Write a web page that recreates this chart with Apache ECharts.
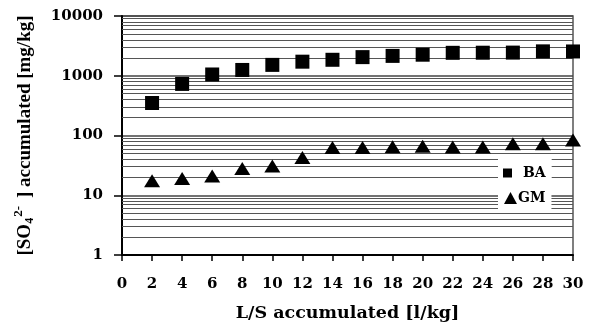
<!DOCTYPE html>
<html>
<head>
<meta charset="utf-8">
<script src="https://cdn.jsdelivr.net/npm/echarts@6/dist/echarts.min.js"></script>
<style>
  html, body { margin: 0; padding: 0; background: #fff; }
  #chart { width: 590px; height: 327px; }
</style>
</head>
<body>
<div id="chart"></div>
<script>
// L/S accumulated [l/kg]
const ls = [2, 4, 6, 8, 10, 12, 14, 16, 18, 20, 22, 24, 26, 28, 30];
// SO4 accumulated [mg/kg]
const ba = [350, 730, 1050, 1250, 1520, 1720, 1850, 2050, 2150, 2250, 2420, 2430, 2440, 2560, 2550];
const gm = [17.5, 19, 21, 28, 31, 43, 63, 63, 65, 66, 64, 64, 73, 73, 84];
// minor horizontal grid values (log decades 2..9)
const minorGrid = [2, 3, 4, 5, 6, 7, 8, 9, 20, 30, 40, 50, 60, 70, 80, 90,
  200, 300, 400, 500, 600, 700, 800, 900, 2000, 3000, 4000, 5000, 6000, 7000, 8000, 9000];

const serifWide = 'DejaVu Serif';
const serif = 'Liberation Serif';

const chart = echarts.init(document.getElementById('chart'));

const toPairs = (ys) => ls.map((x, i) => [x, ys[i]]);

const option = {
  backgroundColor: '#fff',
  animation: false,
  grid: {
    left: 122,
    right: 17,
    top: 16,
    bottom: 72,
    show: true,
    borderColor: '#555',
    borderWidth: 1.5
  },
  legend: [
    {
      data: ['BA'],
      icon: 'rect',
      itemWidth: 9,
      itemHeight: 9,
      left: 498,
      top: 157,
      width: 57,
      height: 28,
      padding: [9, 6, 5, 5],
      itemGap: 10,
      backgroundColor: '#fff',
      itemStyle: { opacity: 1 },
      textStyle: { fontFamily: serifWide, fontWeight: 'bold', fontSize: 14, color: '#000', padding: [0, 0, 0, 6] },
      selectedMode: false
    },
    {
      data: ['GM'],
      icon: 'triangle',
      itemWidth: 13,
      itemHeight: 12,
      left: 498,
      top: 185,
      width: 57,
      height: 27,
      padding: [6, 6, 8, 6],
      backgroundColor: '#fff',
      itemGap: 2,
      itemStyle: { opacity: 1 },
      textStyle: { fontFamily: serifWide, fontWeight: 'bold', fontSize: 14, color: '#000', padding: [0, 0, 0, -4] },
      selectedMode: false
    }
  ],
  xAxis: {
    type: 'value',
    min: 0,
    max: 30,
    interval: 2,
    name: 'L/S accumulated [l/kg]',
    nameLocation: 'middle',
    nameGap: 49,
    nameTextStyle: { fontFamily: serifWide, fontWeight: 'bold', fontSize: 17.5, color: '#000' },
    axisLine: { lineStyle: { color: '#000', width: 2 } },
    axisTick: { inside: false, length: 6, lineStyle: { color: '#000', width: 1.5 } },
    axisLabel: { margin: 22, fontFamily: serifWide, fontWeight: 'bold', fontSize: 15, color: '#000' },
    splitLine: { show: false }
  },
  yAxis: {
    type: 'log',
    logBase: 10,
    min: 1,
    max: 10000,
    name: '[SO{sub|4}{sup|2-}] accumulated [mg/kg]',
    nameLocation: 'middle',
    nameGap: 84,
    nameRotate: 90,
    nameTextStyle: {
      fontFamily: serif,
      fontWeight: 'bold',
      fontSize: 19,
      lineHeight: 26,
      color: '#000',
      rich: {
        sub: { fontFamily: serif, fontWeight: 'bold', fontSize: 12, lineHeight: 26, verticalAlign: 'bottom', padding: [0, 0, 2, 0], color: '#000' },
        sup: { fontFamily: serif, fontWeight: 'bold', fontSize: 13, lineHeight: 14, verticalAlign: 'top', padding: [0, 8, 0, 1], color: '#000' }
      }
    },
    axisLine: { lineStyle: { color: '#000', width: 2 } },
    axisTick: { inside: false, length: 8, lineStyle: { color: '#000', width: 1.5 } },
    axisLabel: {
      margin: 19, fontFamily: serifWide, fontWeight: 'bold', fontSize: 15, color: '#000',
      formatter: (v) => String(Math.round(v))
    },
    splitLine: { show: true, lineStyle: { color: '#444', width: 1.5 } }
  },
  series: [
    {
      name: 'BA',
      type: 'scatter',
      symbol: 'rect',
      symbolSize: 14,
      clip: false,
      z: 3,
      itemStyle: { color: '#000', opacity: 1 },
      data: toPairs(ba),
      markLine: {
        silent: true,
        symbol: 'none',
        z: 1,
        label: { show: false },
        lineStyle: { type: 'solid', color: '#555', width: 1, opacity: 1 },
        data: minorGrid.map(v => ({ yAxis: v }))
      }
    },
    {
      name: 'GM',
      type: 'scatter',
      symbol: 'triangle',
      symbolSize: [16, 13],
      clip: false,
      z: 3,
      itemStyle: { color: '#000', opacity: 1 },
      data: toPairs(gm)
    }
  ]
};

chart.setOption(option);
</script>
</body>
</html>
